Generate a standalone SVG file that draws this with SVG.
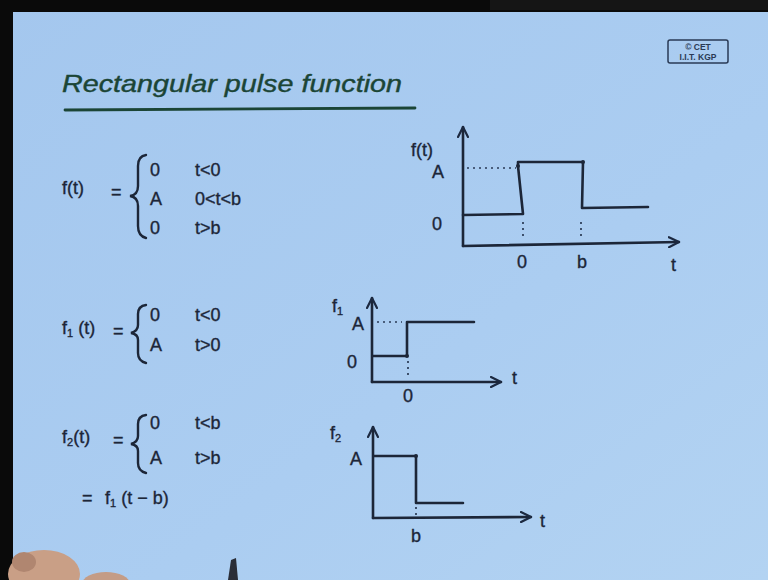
<svg xmlns="http://www.w3.org/2000/svg" width="768" height="580" viewBox="0 0 768 580">
  <defs>
    <linearGradient id="bg" x1="0" y1="0" x2="1" y2="1">
      <stop offset="0" stop-color="#a4c7ee"/>
      <stop offset="0.6" stop-color="#abcdf1"/>
      <stop offset="1" stop-color="#b3d3f2"/>
    </linearGradient>
    <marker id="arr" viewBox="0 0 12 12" refX="11" refY="6" markerWidth="12" markerHeight="12" markerUnits="userSpaceOnUse" orient="auto">
      <path d="M1,1 L11,6 L1,11" fill="none" stroke="#1c2940" stroke-width="2.2" stroke-linecap="round" stroke-linejoin="round"/>
    </marker>
    <style>
      .ink { fill: #1c2638; stroke: #1c2638; stroke-width: 0.35; font-family: "Liberation Sans", "DejaVu Sans", sans-serif; font-size: 18px; }
      .sub { font-size: 11px; }
      .title { fill: #1b4536; stroke: #1b4536; stroke-width: 0.4; font-family: "Liberation Sans", "DejaVu Sans", sans-serif; font-style: italic; font-size: 24px; }
      .ln { fill: none; stroke: #1c2638; stroke-width: 2.6; stroke-linecap: round; stroke-linejoin: round; }
      .ax { fill: none; stroke: #1c2638; stroke-width: 2.6; stroke-linecap: round; }
      .dot { fill: none; stroke: #2a3a55; stroke-width: 1.7; stroke-dasharray: 2 4; }
      .brace { fill: none; stroke: #1c2638; stroke-width: 2.4; stroke-linecap: round; }
    </style>
  </defs>

  <!-- slide background -->
  <rect x="0" y="0" width="768" height="580" fill="url(#bg)"/>
  <!-- photo edges -->
  <rect x="0" y="0" width="768" height="12" fill="#0a0a0a"/>
  <rect x="490" y="0" width="278" height="10" fill="#151515"/>
  <rect x="0" y="0" width="13" height="580" fill="#0a0a0a"/>
  <!-- hand -->
  <ellipse cx="44" cy="574" rx="36" ry="24" fill="#c99f86"/>
  <ellipse cx="24" cy="562" rx="12" ry="10" fill="#b08670"/>
  <ellipse cx="106" cy="584" rx="24" ry="12" fill="#c49c86"/>
  <path d="M228,580 L231,560 L236,558 L238,580 Z" fill="#2a2e38"/>

  <g id="title">
    <text class="title" x="62" y="92" textLength="340" lengthAdjust="spacingAndGlyphs">Rectangular pulse function</text>
    <line x1="65" y1="110" x2="415" y2="108" stroke="#1b4536" stroke-width="2.8" stroke-linecap="round"/>
  </g>

  <g id="logo">
    <rect x="668" y="40" width="60" height="23" rx="2" fill="none" stroke="#2a3a55" stroke-width="1.5"/>
    <text x="698" y="50" text-anchor="middle" font-family="Liberation Sans, sans-serif" font-size="8.5" font-weight="bold" fill="#2a3a55">© CET</text>
    <text x="698" y="60" text-anchor="middle" font-family="Liberation Sans, sans-serif" font-size="8.5" font-weight="bold" fill="#2a3a55">I.I.T. KGP</text>
  </g>

  <g id="eq1">
    <text class="ink" x="62" y="194">f(t)</text>
    <text class="ink" x="111" y="198">=</text>
    <path class="brace" d="M146,155 Q138,156 138,166 L138,186 Q138,195 130,196 Q138,197 138,206 L138,226 Q138,236 146,238"/>
    <text class="ink" x="150" y="176">0</text>
    <text class="ink" x="195" y="176">t&lt;0</text>
    <text class="ink" x="150" y="205">A</text>
    <text class="ink" x="195" y="205">0&lt;t&lt;b</text>
    <text class="ink" x="150" y="234">0</text>
    <text class="ink" x="195" y="234">t&gt;b</text>
  </g>

  <g id="graph1">
    <text class="ink" x="411" y="156">f(t)</text>
    <text class="ink" x="432" y="178">A</text>
    <text class="ink" x="432" y="230">0</text>
    <text class="ink" x="517" y="268">0</text>
    <text class="ink" x="577" y="268">b</text>
    <text class="ink" x="671" y="271">t</text>
    <g id="connectors1">
      <line class="ax" x1="463" y1="246" x2="463" y2="127" marker-end="url(#arr)"/>
      <line class="ax" x1="463" y1="246" x2="679" y2="242" marker-end="url(#arr)"/>
      <line class="dot" x1="467" y1="168" x2="516" y2="168"/>
      <polyline class="ln" points="463,215 523,214 518,166 518,162 583,162 582,208 648,207"/>
      <circle cx="518" cy="166" r="2" fill="#1c2638"/>
      <circle cx="583" cy="162" r="2" fill="#1c2638"/>
      <line class="dot" x1="523" y1="222" x2="523" y2="240"/>
      <line class="dot" x1="581" y1="222" x2="581" y2="240"/>
    </g>
  </g>

  <g id="eq2">
    <text class="ink" x="62" y="334">f<tspan class="sub" dy="3">1</tspan><tspan dy="-3"> (t)</tspan></text>
    <text class="ink" x="113" y="337">=</text>
    <path class="brace" d="M146,305 Q138,306 138,314 L138,325 Q138,331 131,333 Q138,334 138,340 L138,353 Q138,361 146,363"/>
    <text class="ink" x="150" y="321">0</text>
    <text class="ink" x="195" y="321">t&lt;0</text>
    <text class="ink" x="150" y="351">A</text>
    <text class="ink" x="195" y="351">t&gt;0</text>
  </g>

  <g id="graph2">
    <text class="ink" x="332" y="312">f<tspan class="sub" dy="3">1</tspan></text>
    <text class="ink" x="352" y="330">A</text>
    <text class="ink" x="347" y="368">0</text>
    <text class="ink" x="403" y="402">0</text>
    <text class="ink" x="512" y="384">t</text>
    <g id="connectors2">
      <line class="ax" x1="372" y1="382" x2="372" y2="298" marker-end="url(#arr)"/>
      <line class="ax" x1="372" y1="382" x2="501" y2="382" marker-end="url(#arr)"/>
      <line class="dot" x1="377" y1="322" x2="402" y2="322"/>
      <polyline class="ln" points="373,356 407,356 407,322 474,322"/>
      <circle cx="407" cy="356" r="2" fill="#1c2638"/>
      <line class="dot" x1="408" y1="361" x2="408" y2="379"/>
    </g>
  </g>

  <g id="eq3">
    <text class="ink" x="62" y="443">f<tspan class="sub" dy="3">2</tspan><tspan dy="-3">(t)</tspan></text>
    <text class="ink" x="113" y="446">=</text>
    <path class="brace" d="M146,415 Q138,416 138,424 L138,436 Q138,442 131,444 Q138,445 138,451 L138,463 Q138,471 146,473"/>
    <text class="ink" x="150" y="429">0</text>
    <text class="ink" x="195" y="429">t&lt;b</text>
    <text class="ink" x="150" y="464">A</text>
    <text class="ink" x="195" y="464">t&gt;b</text>
    <text class="ink" x="82" y="504">=</text>
    <text class="ink" x="105" y="504">f<tspan class="sub" dy="3">1</tspan><tspan dy="-3"> (t − b)</tspan></text>
  </g>

  <g id="graph3">
    <text class="ink" x="330" y="439">f<tspan class="sub" dy="3">2</tspan></text>
    <text class="ink" x="350" y="465">A</text>
    <text class="ink" x="411" y="542">b</text>
    <text class="ink" x="540" y="527">t</text>
    <g id="connectors3">
      <line class="ax" x1="373" y1="518" x2="373" y2="427" marker-end="url(#arr)"/>
      <line class="ax" x1="373" y1="518" x2="531" y2="517" marker-end="url(#arr)"/>
      <polyline class="ln" points="374,456 416,456 416,503 463,503"/>
      <circle cx="416" cy="456" r="2" fill="#1c2638"/>
      <line class="dot" x1="416" y1="507" x2="416" y2="517"/>
    </g>
  </g>
</svg>
